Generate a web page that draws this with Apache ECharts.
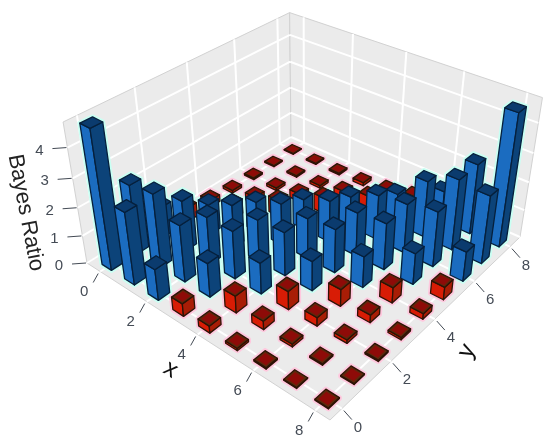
<!DOCTYPE html>
<html>
<head>
<meta charset="utf-8">
<style>html,body{margin:0;background:#fff}#main{width:550px;height:445px}</style>
<script src="https://cdn.jsdelivr.net/npm/echarts@6/dist/echarts.min.js"></script>
</head>
<body>
<div id="main"></div>
<script>
// bayes ratio per grid cell, one array per x, index is y
var ratioX0 = [4.80, 2.45, 1.10, 0.50, 0.25, 0.10, 0.06, 0.04, 0.03];
var ratioX1 = [2.55, 2.60, 1.80, 1.10, 0.55, 0.28, 0.10, 0.06, 0.04];
var ratioX2 = [1.10, 2.00, 1.70, 1.55, 1.10, 0.60, 0.30, 0.10, 0.06];
var ratioX3 = [0.45, 1.20, 1.70, 1.50, 1.50, 1.10, 0.60, 0.30, 0.12];
var ratioX4 = [0.25, 0.60, 1.10, 1.55, 1.45, 1.50, 1.10, 0.55, 0.25];
var ratioX5 = [0.08, 0.30, 0.65, 1.05, 1.55, 1.55, 1.60, 1.10, 0.45];
var ratioX6 = [0.05, 0.10, 0.30, 0.60, 1.10, 1.65, 1.75, 2.00, 1.10];
var ratioX7 = [0.03, 0.05, 0.12, 0.27, 0.55, 1.10, 1.95, 2.50, 2.50];
var ratioX8 = [0.03, 0.03, 0.05, 0.08, 0.20, 0.45, 1.05, 2.40, 4.60];
var ratioRows = [ratioX0, ratioX1, ratioX2, ratioX3, ratioX4, ratioX5, ratioX6, ratioX7, ratioX8];

var xTicks = [0, 2, 4, 6, 8];
var yTicks = [0, 2, 4, 6, 8];
var zTicks = [0, 1, 2, 3, 4];

var xRange = [-0.6, 8.45], yRange = [-0.45, 8.6], zRange = [0, 4.8];
var barHalf = 0.21;

// screen position of the box corners and of the vanishing point of the verticals
var floorA = [87, 263], floorB = [330, 420], floorC = [520, 237], floorD = [291, 137];
var topA = [63, 122], vanish = [307, 1560];

function makeCamera() {
    var dx1 = floorB[0] - floorC[0], dx2 = floorD[0] - floorC[0], sx = floorA[0] - floorB[0] + floorC[0] - floorD[0];
    var dy1 = floorB[1] - floorC[1], dy2 = floorD[1] - floorC[1], sy = floorA[1] - floorB[1] + floorC[1] - floorD[1];
    var det = dx1 * dy2 - dx2 * dy1;
    var g = (sx * dy2 - dx2 * sy) / det, h = (dx1 * sy - sx * dy1) / det;
    var a = floorB[0] - floorA[0] + g * floorB[0], b = floorD[0] - floorA[0] + h * floorD[0], c = floorA[0];
    var d = floorB[1] - floorA[1] + g * floorB[1], e = floorD[1] - floorA[1] + h * floorD[1], f = floorA[1];
    var r = (topA[1] - f) / (vanish[1] - topA[1]);
    return {a: a, b: b, c: c, d: d, e: e, f: f, g: g, h: h, p: r * vanish[0], q: r * vanish[1], r: r};
}
var cam = makeCamera();

// x,y go through the hidden cartesian axes, then the camera
function project(api, x, y, z) {
    var size = [api.getWidth(), api.getHeight()];
    var pt = api.coord([x, y]);
    var u = pt[0] / size[0], v = 1 - pt[1] / size[1];
    var w = echarts.number.linearMap(z, zRange, [0, 1]);
    var den = cam.g * u + cam.h * v + 1 + cam.r * w;
    return [(cam.a * u + cam.b * v + cam.c + cam.p * w) / den, (cam.d * u + cam.e * v + cam.f + cam.q * w) / den];
}

function shift(p, dx, dy) {
    return [p[0] + dx, p[1] + dy];
}
function line(p1, p2, color, width) {
    return {type: 'line', shape: {x1: p1[0], y1: p1[1], x2: p2[0], y2: p2[1]}, style: {stroke: color, lineWidth: width}};
}
function poly(points, fill, stroke, width) {
    return {type: 'polygon', shape: {points: points}, style: {fill: fill, stroke: stroke, lineWidth: width, lineJoin: 'round'}};
}
function label(text, p, font, color, rotation) {
    return {type: 'text', x: p[0], y: p[1], rotation: rotation || 0,
        style: {text: text, font: font, fill: color, align: 'center', verticalAlign: 'middle'}};
}

function renderBox(params, api) {
    var kids = [];
    var x0 = xRange[0], x1 = xRange[1], y0 = yRange[0], y1 = yRange[1], z0 = zRange[0], z1 = zRange[1];
    var P = function (x, y, z) { return project(api, x, y, z); };
    var wall = '#ebebeb', edge = '#d2d2d2';
    kids.push(poly([P(x0, y0, z0), P(x0, y1, z0), P(x0, y1, z1), P(x0, y0, z1)], wall, edge, 1));
    kids.push(poly([P(x0, y1, z0), P(x1, y1, z0), P(x1, y1, z1), P(x0, y1, z1)], wall, edge, 1));
    kids.push(poly([P(x0, y0, z0), P(x1, y0, z0), P(x1, y1, z0), P(x0, y1, z0)], wall, edge, 1));
    zTicks.forEach(function (t) {
        kids.push(line(P(x0, y0, t), P(x0, y1, t), '#fff', 2));
        kids.push(line(P(x0, y1, t), P(x1, y1, t), '#fff', 2));
    });
    yTicks.forEach(function (t) {
        kids.push(line(P(x0, t, z0), P(x0, t, z1), '#fff', 2));
        kids.push(line(P(x0, t, z0), P(x1, t, z0), '#fff', 2));
    });
    xTicks.forEach(function (t) {
        kids.push(line(P(t, y1, z0), P(t, y1, z1), '#fff', 2));
        kids.push(line(P(t, y0, z0), P(t, y1, z0), '#fff', 2));
    });
    // ticks and their numbers
    var tickColor = '#444b55', tickFont = '15px "Liberation Sans"';
    xTicks.forEach(function (t) {
        var p = P(t, y0, z0);
        kids.push(line(shift(p, -2, 2), shift(p, -7, 11), tickColor, 1));
        kids.push(label(String(t), shift(p, -16, 20), tickFont, tickColor));
    });
    yTicks.forEach(function (t) {
        var p = P(x1, t, z0);
        kids.push(line(shift(p, 2, 2), shift(p, 10, 11), tickColor, 1));
        kids.push(label(String(t), shift(p, 16, 19), tickFont, tickColor));
    });
    zTicks.forEach(function (t) {
        var p = P(x0, y0, t);
        kids.push(line(shift(p, -1, 0), shift(p, -15, 1), tickColor, 1));
        kids.push(label(String(t), shift(p, -28, 3), tickFont, tickColor));
    });
    var nameFont = '24px "Liberation Sans"';
    kids.push(label('x', shift(P(4, y0, z0), -27, 35), nameFont, '#111', -0.55));
    kids.push(label('y', shift(P(x1, 4, z0), 32, 32), nameFont, '#111', 1.1));
    kids.push(label('Bayes Ratio', shift(P(x0, y0, 2), -52, 5), '22px "Liberation Sans"', '#222', -1.38));
    return {type: 'group', children: kids};
}

var blueFaces = {top: '#0b3b6e', left: '#1b6cc0', right: '#0c4379', line: '#06203c', halo: '#c9fff3'};
var redFaces = {top: '#5c2b0c', inner: '#8e0b08', left: '#d81c05', right: '#a81d06', line: '#2e1306', halo: '#ffc8de'};

function barCorners(api) {
    var x = api.value(0), y = api.value(1), h = api.value(2), s = barHalf;
    var P = function (a, b, z) { return project(api, a, b, z); };
    return {
        x: x, y: y, h: h,
        fl: P(x - s, y - s, 0), fm: P(x + s, y - s, 0), fr: P(x + s, y + s, 0),
        tl: P(x - s, y - s, h), tm: P(x + s, y - s, h), tr: P(x + s, y + s, h), tb: P(x - s, y + s, h)
    };
}

function renderHalo(params, api) {
    var c = barCorners(api);
    var col = c.h >= 1 ? blueFaces : redFaces;
    return poly([c.fl, c.fm, c.fr, c.tr, c.tb, c.tl], col.halo, col.halo, 5);
}

function renderBar(params, api) {
    var c = barCorners(api);
    var col = c.h >= 1 ? blueFaces : redFaces;
    var kids = [
        poly([c.fl, c.fm, c.tm, c.tl], col.left, col.line, 1.3),
        poly([c.fm, c.fr, c.tr, c.tm], col.right, col.line, 1.3),
        poly([c.tl, c.tm, c.tr, c.tb], col.top, col.line, 1.3)
    ];
    if (col.inner) {
        var s = barHalf * 0.68;
        kids.push(poly([
            project(api, c.x - s, c.y - s, c.h), project(api, c.x + s, c.y - s, c.h),
            project(api, c.x + s, c.y + s, c.h), project(api, c.x - s, c.y + s, c.h)
        ], col.inner, col.inner, 0.5));
    }
    return {type: 'group', children: kids};
}

// painter's order, back corner first
var cells = [];
ratioRows.forEach(function (row, xi) {
    row.forEach(function (val, yi) { cells.push([xi, yi, val]); });
});
cells.sort(function (m, n) { return (m[0] - m[1]) - (n[0] - n[1]); });

var chart = echarts.init(document.getElementById('main'));
chart.setOption({
    animation: false,
    backgroundColor: '#fff',
    grid: {left: 0, right: 0, top: 0, bottom: 0},
    xAxis: {type: 'value', min: xRange[0], max: xRange[1], show: false},
    yAxis: {type: 'value', min: yRange[0], max: yRange[1], show: false},
    series: [
        {type: 'custom', clip: false, silent: true, data: [[0, 0]], renderItem: renderBox, z: 1},
        {type: 'custom', clip: false, silent: true, data: cells, encode: {x: 0, y: 1}, renderItem: renderHalo, z: 2},
        {type: 'custom', clip: false, silent: true, data: cells, encode: {x: 0, y: 1}, renderItem: renderBar, z: 3}
    ]
});
</script>
</body>
</html>
